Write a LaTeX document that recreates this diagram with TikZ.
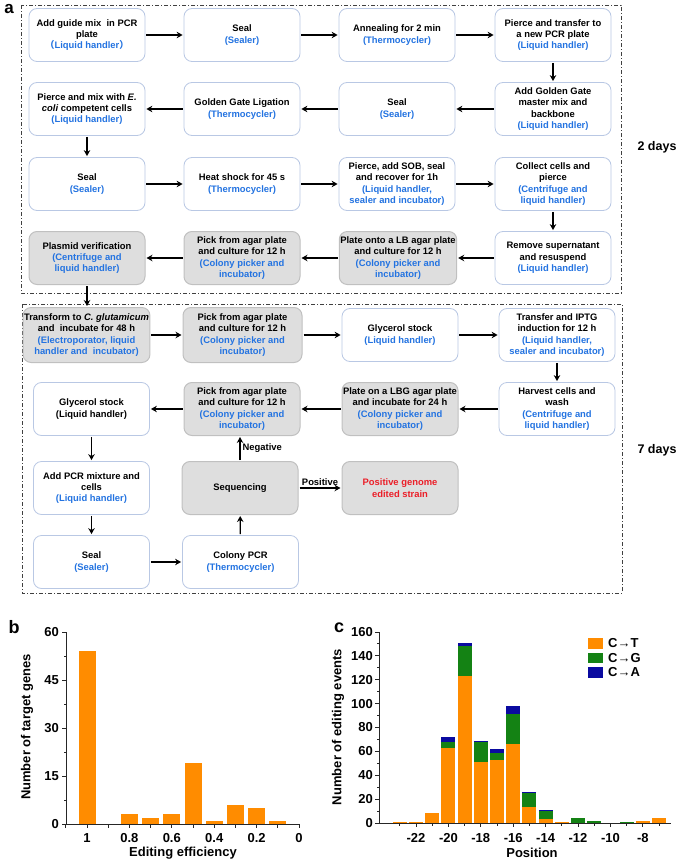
\documentclass[tikz,border=0pt]{standalone}
\usepackage{fontspec}
\setmainfont{Liberation Sans}
\newfontfamily\cjkfont{Noto Sans CJK SC}
\usetikzlibrary{arrows.meta}
\definecolor{tblue}{RGB}{35,115,225}
\definecolor{tred}{RGB}{235,30,40}
\definecolor{bborder}{RGB}{185,200,228}
\definecolor{gborder}{RGB}{192,192,192}
\definecolor{gfill}{RGB}{222,222,222}
\definecolor{corange}{RGB}{255,140,0}
\definecolor{cgreen}{RGB}{20,130,20}
\definecolor{cblue}{RGB}{10,10,160}
\newcommand\bluetext[1]{{\color{tblue}#1}}
\begin{document}
\begin{tikzpicture}[x=1pt,y=-1pt,
  wbox/.style={draw=bborder, line width=0.8pt, rounded corners=8pt, fill=white,
    minimum width=116pt, minimum height=53pt, align=center, inner sep=1pt,
    font=\bfseries\fontsize{9.4}{11.3}\selectfont},
  gbox/.style={wbox, draw=gborder, fill=gfill, line width=1pt},
  arr/.style={-{Stealth[length=6pt,width=6.5pt,inset=2pt]}, line width=1.3pt, shorten >=1pt, shorten <=1pt},
  frame/.style={draw=black!75, line width=0.8pt, dash pattern=on 4pt off 2pt on 1pt off 2pt},
  lbl/.style={font=\bfseries\fontsize{9.4}{11.3}\selectfont, inner sep=1pt},
  plotfont/.style={font=\bfseries\fontsize{13}{15}\selectfont, inner sep=0pt},
  axisline/.style={line width=1pt, black!85}
]
\useasboundingbox (0,0) rectangle (678,861);

% panel letters and frames
\node[font=\bfseries\fontsize{17}{19}\selectfont, inner sep=0pt, anchor=north] (la) at (9,4) {a};
\draw[frame] (21,5) rectangle (621,293);
\draw[frame] (22,304) rectangle (622,593);
\node[font=\bfseries\fontsize{12.5}{14}\selectfont] (d2) at (657,147) {2 days};
\node[font=\bfseries\fontsize{12.5}{14}\selectfont] (d7) at (657,450) {7 days};

% row 1
\node[wbox] (n1) at (87,35) {Add guide mix\ \ in PCR\\plate\\\bluetext{{\cjkfont （}Liquid handler{\cjkfont ）}}};
\node[wbox] (n2) at (242,35) {Seal\\\bluetext{(Sealer)}};
\node[wbox] (n3) at (397,35) {Annealing for 2 min\\\bluetext{(Thermocycler)}};
\node[wbox] (n4) at (553,35) {Pierce and transfer to\\a new PCR plate\\\bluetext{(Liquid handler)}};
% row 2
\node[wbox] (n5) at (553,109) {Add Golden Gate\\master mix and\\backbone\\\bluetext{(Liquid handler)}};
\node[wbox] (n6) at (397,109) {Seal\\\bluetext{(Sealer)}};
\node[wbox] (n7) at (242,109) {Golden Gate Ligation\\\bluetext{(Thermocycler)}};
\node[wbox] (n8) at (87,109) {Pierce and mix with \textit{E.}\\\textit{coli} competent cells\\\bluetext{(Liquid handler)}};
% row 3
\node[wbox] (n9) at (87,184) {Seal\\\bluetext{(Sealer)}};
\node[wbox] (n10) at (242,184) {Heat shock for 45 s\\\bluetext{(Thermocycler)}};
\node[wbox] (n11) at (397,184) {Pierce, add SOB, seal\\and recover for 1h\\\bluetext{(Liquid handler,}\\\bluetext{sealer and incubator)}};
\node[wbox] (n12) at (553,184) {Collect cells and\\pierce\\\bluetext{(Centrifuge and}\\\bluetext{liquid handler)}};
% row 4
\node[wbox] (n13) at (553,258) {Remove supernatant\\and resuspend\\\bluetext{(Liquid handler)}};
\node[gbox] (n14) at (398,258) {Plate onto a LB agar plate\\and culture for 12 h\\\bluetext{(Colony picker and}\\\bluetext{incubator)}};
\node[gbox] (n15) at (242,258) {Pick from agar plate\\and culture for 12 h\\\bluetext{(Colony picker and}\\\bluetext{incubator)}};
\node[gbox] (n16) at (87,258) {Plasmid verification\\\bluetext{(Centrifuge and}\\\bluetext{liquid handler)}};
% row 5
\node[gbox, minimum width=123pt, minimum height=55pt] (n17) at (86.5,335) {Transform to \textit{C. glutamicum}\\and\ \ incubate for 48 h\\\bluetext{(Electroporator, liquid}\\\bluetext{handler and\ \ incubator)}};
\node[gbox, minimum width=119pt, minimum height=55pt] (n18) at (242.5,335) {Pick from agar plate\\and culture for 12 h\\\bluetext{(Colony picker and}\\\bluetext{incubator)}};
\node[wbox] (n19) at (400,335) {Glycerol stock\\\bluetext{(Liquid handler)}};
\node[wbox] (n20) at (557,335) {Transfer and IPTG\\induction for 12 h\\\bluetext{(Liquid handler,}\\\bluetext{sealer and incubator)}};
% row 6
\node[wbox] (n21) at (557,409) {Harvest cells and\\wash\\\bluetext{(Centrifuge and}\\\bluetext{liquid handler)}};
\node[gbox] (n22) at (400,409) {Plate on a LBG agar plate\\and incubate for 24 h\\\bluetext{(Colony picker and}\\\bluetext{incubator)}};
\node[gbox] (n23) at (242,409) {Pick from agar plate\\and culture for 12 h\\\bluetext{(Colony picker and}\\\bluetext{incubator)}};
\node[wbox] (n24) at (91.5,409) {Glycerol stock\\(Liquid handler)};
% row 7
\node[wbox] (n25) at (91.5,488) {Add PCR mixture and\\cells\\\bluetext{(Liquid handler)}};
\node[gbox] (n28) at (240,488) {Sequencing};
\node[gbox] (n29) at (400,488) {\color{tred}Positive genome\\\color{tred}edited strain};
% row 8
\node[wbox] (n26) at (91.5,562) {Seal\\\bluetext{(Sealer)}};
\node[wbox] (n27) at (240.5,562) {Colony PCR\\\bluetext{(Thermocycler)}};

% connectors
\draw[arr] (n1) -- (n2);
\draw[arr] (n2) -- (n3);
\draw[arr] (n3) -- (n4);
\draw[arr] (n4) -- (n5);
\draw[arr] (n5) -- (n6);
\draw[arr] (n6) -- (n7);
\draw[arr] (n7) -- (n8);
\draw[arr] (n8) -- (n9);
\draw[arr] (n9) -- (n10);
\draw[arr] (n10) -- (n11);
\draw[arr] (n11) -- (n12);
\draw[arr] (n12) -- (n13);
\draw[arr] (n13) -- (n14);
\draw[arr] (n14) -- (n15);
\draw[arr] (n15) -- (n16);
\draw[arr] (n16.south) -- (n16.south |- n17.north);
\draw[arr] (n17) -- (n18);
\draw[arr] (n18) -- (n19);
\draw[arr] (n19) -- (n20);
\draw[arr] (n20.south) -- (n20.south |- n21.north);
\draw[arr] (n21) -- (n22);
\draw[arr] (n22) -- (n23);
\draw[arr] (n23) -- (n24);
\draw[arr] (n24) -- (n25);
\draw[arr] (n25) -- (n26);
\draw[arr] (n26) -- (n27);
\draw[arr] (n27) -- (n28);
\draw[arr] (n28) -- node[lbl, right=1pt] {Negative} (n28.north |- n23.south);
\draw[arr] (n28) -- node[lbl, above=1pt] {Positive} (n29);

% ---------- panel b ----------
\node[font=\bfseries\fontsize{18}{20}\selectfont, inner sep=0pt] (lb) at (14,627) {b};
\draw[axisline] (66,632) -- (66,824) -- (300,824);
\foreach \v in {0,15,30,45,60} {
  \draw[axisline] (66,{824-\v*3.2}) -- ++(-4,0);
  \node[plotfont, anchor=east] at (59,{824-\v*3.2}) {\v};
}
\foreach \v in {7.5,22.5,37.5,52.5}
  \draw[axisline] (66,{824-\v*3.2}) -- ++(-2.5,0);
\foreach \i in {0,...,11}
  \draw[axisline] ({299-21.2*\i},824) -- ++(0,4);
\foreach \i/\t in {0/0,2/0.2,4/0.4,6/0.6,8/0.8,10/1}
  \node[plotfont] at ({299-21.2*\i},838) {\t};
\foreach \i/\n in {10/54,8/3,7/2,6/3,5/19,4/1,3/6,2/5,1/1}
  \fill[corange] ({299-21.2*\i-8.5},823.5) rectangle ({299-21.2*\i+8.5},{824-\n*3.2});
\node[plotfont, rotate=90] (ylb) at (27,727) {Number of target genes};
\node[plotfont] (xlb) at (183,853) {Editing efficiency};

% ---------- panel c ----------
\node[font=\bfseries\fontsize{18}{20}\selectfont, inner sep=0pt] (lc) at (339,628) {c};
\foreach \p/\t/\g/\a in {-23/1/0/0,-22/1/0/0,-21/8/0/0,-20/63/5/4,-19/123/25/3,-18/51/17/1,-17/53/6/3,-16/66/25/7,-15/13/12/1,-14/3/7/1,-13/1/0/0,-12/0/4/0,-11/0/2/0,-9/0/1/0,-8/2/0/0,-7/4/0/0} {
  \pgfmathsetmacro\xc{416+(\p+22)*16.2}
  \pgfmathsetmacro\ya{823-\t*1.19375}
  \pgfmathsetmacro\yb{823-(\t+\g)*1.19375}
  \pgfmathsetmacro\yc{823-(\t+\g+\a)*1.19375}
  \ifnum\t>0 \fill[corange] (\xc-7,823) rectangle (\xc+7,\ya); \fi
  \ifnum\g>0 \fill[cgreen] (\xc-7,\ya) rectangle (\xc+7,\yb); \fi
  \ifnum\a>0 \fill[cblue] (\xc-7,\yb) rectangle (\xc+7,\yc); \fi
}
\draw[axisline] (379,632) -- (379,823) -- (671,823);
\foreach \v in {0,20,...,160} {
  \draw[axisline] (379,{823-\v*1.19375}) -- ++(-4,0);
  \node[plotfont, anchor=east] at (373,{823-\v*1.19375}) {\v};
}
\foreach \v in {10,30,...,150}
  \draw[axisline] (379,{823-\v*1.19375}) -- ++(-2.5,0);
\foreach \p in {-23,-21,...,-7}
  \draw[axisline] ({416+(\p+22)*16.2},823) -- ++(0,2.5);
\foreach \p in {-22,-20,...,-8} {
  \draw[axisline] ({416+(\p+22)*16.2},823) -- ++(0,4);
  \node[plotfont] at ({416+(\p+22)*16.2},838) {\p};
}
\fill[corange] (588,638) rectangle (603,649);
\fill[cgreen] (588,653) rectangle (603,663);
\fill[cblue] (588,667) rectangle (603,678);
\node[plotfont, anchor=west] (lg1) at (608,643.5) {C→T};
\node[plotfont, anchor=west] (lg2) at (608,658) {C→G};
\node[plotfont, anchor=west] (lg3) at (608,672.5) {C→A};
\node[plotfont, rotate=90] (ylc) at (338,727) {Number of editing events};
\node[plotfont] (xlc) at (532,853) {Position};
\end{tikzpicture}
\end{document}
